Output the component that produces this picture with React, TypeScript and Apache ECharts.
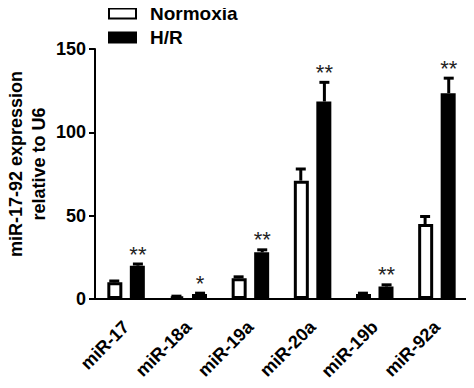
import React, { useEffect, useRef } from "react";
import * as echarts from "echarts";

const categories = ["miR-17", "miR-18a", "miR-19a", "miR-20a", "miR-19b", "miR-92a"];
const normoxia = [10, 1.5, 12.5, 71, 3, 45];
const normoxiaErr = [0.8, 0.2, 0.8, 7, 0.5, 4.5];
const hr = [20, 3, 28, 118.5, 7.5, 123.5];
const hrErr = [1, 0.5, 1.5, 11.5, 1, 9];
const significance = ["**", "*", "**", "**", "**", "**"];
const yTicks = [0, 50, 100, 150];
const yTitle = ["miR-17-92 expression", "relative to U6"];

const FONT = "'Liberation Sans', Arial, sans-serif";

function errorSeries(values: number[], errs: number[], sign: number, stars: string[] | null) {
  return {
    type: "custom",
    silent: true,
    z: 5,
    data: values.map((v, i) => [i, v, errs[i]]),
    renderItem: (params: any, api: any) => {
      const idx = api.value(0);
      const v = api.value(1);
      const e = api.value(2);
      const band = api.size([1, 0])[0];
      const base = api.coord([idx, v]);
      const x = base[0] + sign * band * 0.19;
      const top = api.coord([idx, v + e])[1];
      const children: any[] = [
        {
          type: "line",
          shape: { x1: x, y1: base[1], x2: x, y2: top },
          style: { stroke: "#000", lineWidth: 3 },
        },
        {
          type: "line",
          shape: { x1: x - 5, y1: top, x2: x + 5, y2: top },
          style: { stroke: "#000", lineWidth: 3 },
        },
      ];
      if (stars) {
        children.push({
          type: "text",
          x: x,
          y: top + 1,
          style: {
            text: stars[params.dataIndex],
            fill: "#222",
            font: `normal 22px ${FONT}`,
            align: "center",
            verticalAlign: "bottom",
          },
        });
      }
      return { type: "group", children };
    },
  };
}

export default function App() {
  const ref = useRef<HTMLDivElement>(null);
  useEffect(() => {
    if (!ref.current) return;
    const chart = echarts.init(ref.current, null, { renderer: "svg" });
    chart.setOption({
      animation: false,
      backgroundColor: "#fff",
      grid: { left: 95, right: 6, top: 49, bottom: 89, containLabel: false },
      graphic: [
        {
          type: "text",
          x: 27,
          y: 164,
          rotation: Math.PI / 2,
          style: {
            text: yTitle.join("\n"),
            font: `bold 18px ${FONT}`,
            fill: "#000",
            align: "center",
            verticalAlign: "middle",
            lineHeight: 23,
          },
        },
      ],
      legend: {
        data: ["Normoxia", "H/R"],
        orient: "vertical",
        left: 108,
        top: 4,
        padding: 0,
        itemWidth: 27,
        itemHeight: 10,
        itemGap: 5,
        icon: "rect",
        textStyle: {
          fontFamily: FONT,
          fontWeight: "bold",
          fontSize: 19,
          color: "#000",
          padding: [0, 0, 0, 9],
        },
      },
      xAxis: {
        type: "category",
        data: categories,
        axisLine: { lineStyle: { color: "#000", width: 2 } },
        axisTick: { alignWithLabel: true, length: 7, lineStyle: { color: "#000", width: 2 } },
        axisLabel: {
          interval: 0,
          rotate: 45,
          margin: 25,
          fontFamily: FONT,
          fontWeight: "bold",
          fontSize: 18,
          color: "#000",
        },
      },
      yAxis: {
        type: "value",
        min: 0,
        max: 150,
        interval: 50,
        splitLine: { show: false },
        axisLine: { show: true, lineStyle: { color: "#000", width: 2 } },
        axisTick: { show: true, length: 6, lineStyle: { color: "#000", width: 2 } },
        axisLabel: {
          margin: 9,
          fontFamily: FONT,
          fontWeight: "bold",
          fontSize: 18,
          color: "#000",
          formatter: (v: number) => (yTicks.includes(v) ? String(v) : ""),
        },
      },
      series: [
        {
          name: "Normoxia",
          type: "bar",
          data: normoxia,
          barWidth: 15,
          barGap: "50%",
          itemStyle: { color: "#fff", borderColor: "#000", borderWidth: 3 },
        },
        {
          name: "H/R",
          type: "bar",
          data: hr,
          barWidth: 15,
          itemStyle: { color: "#000", borderColor: "#000", borderWidth: 3 },
        },
        errorSeries(normoxia, normoxiaErr, -1, null),
        errorSeries(hr, hrErr, 1, significance),
      ],
    });
    return () => chart.dispose();
  }, []);
  return <div ref={ref} style={{ width: 474, height: 388, margin: -8 }} />;
}
